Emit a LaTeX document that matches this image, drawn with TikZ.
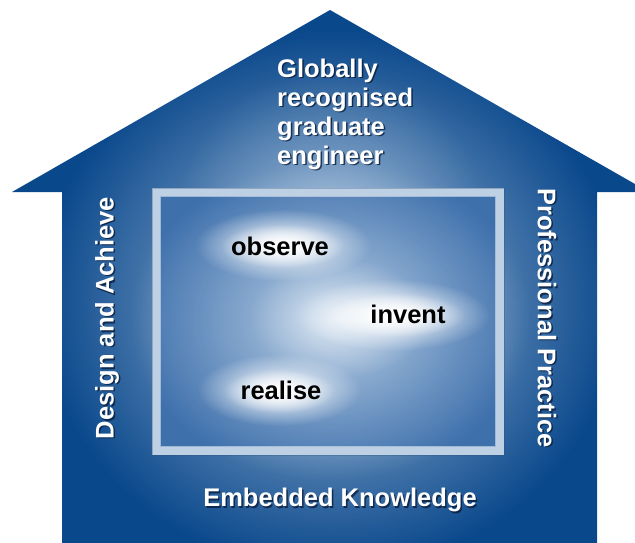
\documentclass[tikz,border=0pt]{standalone}
\usepackage{fontspec}
\setmainfont{Liberation Sans}
\usetikzlibrary{fadings}
\tikzfading[name=softfade, inner color=transparent!0, outer color=transparent!100]
\definecolor{houseblue}{RGB}{10,72,140}
\definecolor{glowblue}{RGB}{200,218,236}
\definecolor{winblue}{RGB}{62,112,172}
\definecolor{framecol}{RGB}{190,208,228}
\definecolor{shadowcol}{RGB}{10,30,60}
\tikzset{
  whitelabel/.style={text=white, font=\bfseries\fontsize{25.5}{29}\selectfont, inner sep=0pt},
  shadowlabel/.style={text=shadowcol, font=\bfseries\fontsize{25.5}{29}\selectfont, inner sep=0pt, opacity=0.8},
  wordlabel/.style={text=black, font=\bfseries\fontsize{25.5}{28}\selectfont, inner sep=0pt},
  wordglow/.style={fill=white, path fading=softfade},
}
\begin{document}
\begin{tikzpicture}[x=1pt,y=-1pt]
\useasboundingbox (0,0) rectangle (635,543);
% house
\path[fill=houseblue] (330,10) -- (635,184) -- (635,192) -- (597,192) -- (597,543)
  -- (62,543) -- (62,192) -- (12,192) -- cycle;
\begin{scope}
  \clip (330,10) -- (635,184) -- (635,192) -- (597,192) -- (597,543)
  -- (62,543) -- (62,192) -- (12,192) -- cycle;
  \fill[glowblue, path fading=softfade, opacity=0.85] (330,300) ellipse (290pt and 270pt);
  \fill[glowblue, path fading=softfade, opacity=0.35] (330,200) ellipse (150pt and 130pt);
\end{scope}
% window
\fill[winblue] (152,188) rectangle (504,455);
\fill[glowblue, path fading=softfade, opacity=0.9] (330,320) ellipse (200pt and 160pt);
\draw[framecol, line width=8pt] (156,192) rectangle (500,451);
\draw[white, opacity=0.5, line width=1.5pt] (160.5,196.5) rectangle (495.5,446.5);
\draw[winblue!70!black, opacity=0.3, line width=1pt] (152,188) rectangle (504,455);
% word glows
\fill[wordglow] (283,245) ellipse (88pt and 36pt);
\fill[wordglow] (283,246) ellipse (62pt and 22pt);
\fill[wordglow] (392,315) ellipse (98pt and 36pt);
\fill[wordglow] (395,315) ellipse (70pt and 22pt);
\fill[wordglow] (279,390) ellipse (82pt and 36pt);
\fill[wordglow] (279,391) ellipse (56pt and 22pt);
\fill[wordglow, opacity=0.5] (340,318) ellipse (90pt and 60pt);
% words
\node[wordlabel] (observe) at (280,246) {observe};
\node[wordlabel] (invent) at (408,314) {invent};
\node[wordlabel] (realise) at (281,390) {realise};
% house labels with shadows
\node[shadowlabel, anchor=west, align=left] at (278.5,115.5) {Globally\\recognised\\graduate\\engineer};
\node[whitelabel, anchor=west, align=left] (title) at (277,114) {Globally\\recognised\\graduate\\engineer};
\node[shadowlabel, rotate=90] at (108.5,319.5) {Design and Achieve};
\node[whitelabel, rotate=90] (design) at (107,318) {Design and Achieve};
\node[shadowlabel, rotate=-90] at (548.5,319.5) {Professional Practice};
\node[whitelabel, rotate=-90] (practice) at (547,318) {Professional Practice};
\node[shadowlabel] at (341.5,501.5) {Embedded Knowledge};
\node[whitelabel] (knowledge) at (340,500) {Embedded Knowledge};
\end{tikzpicture}
\end{document}
